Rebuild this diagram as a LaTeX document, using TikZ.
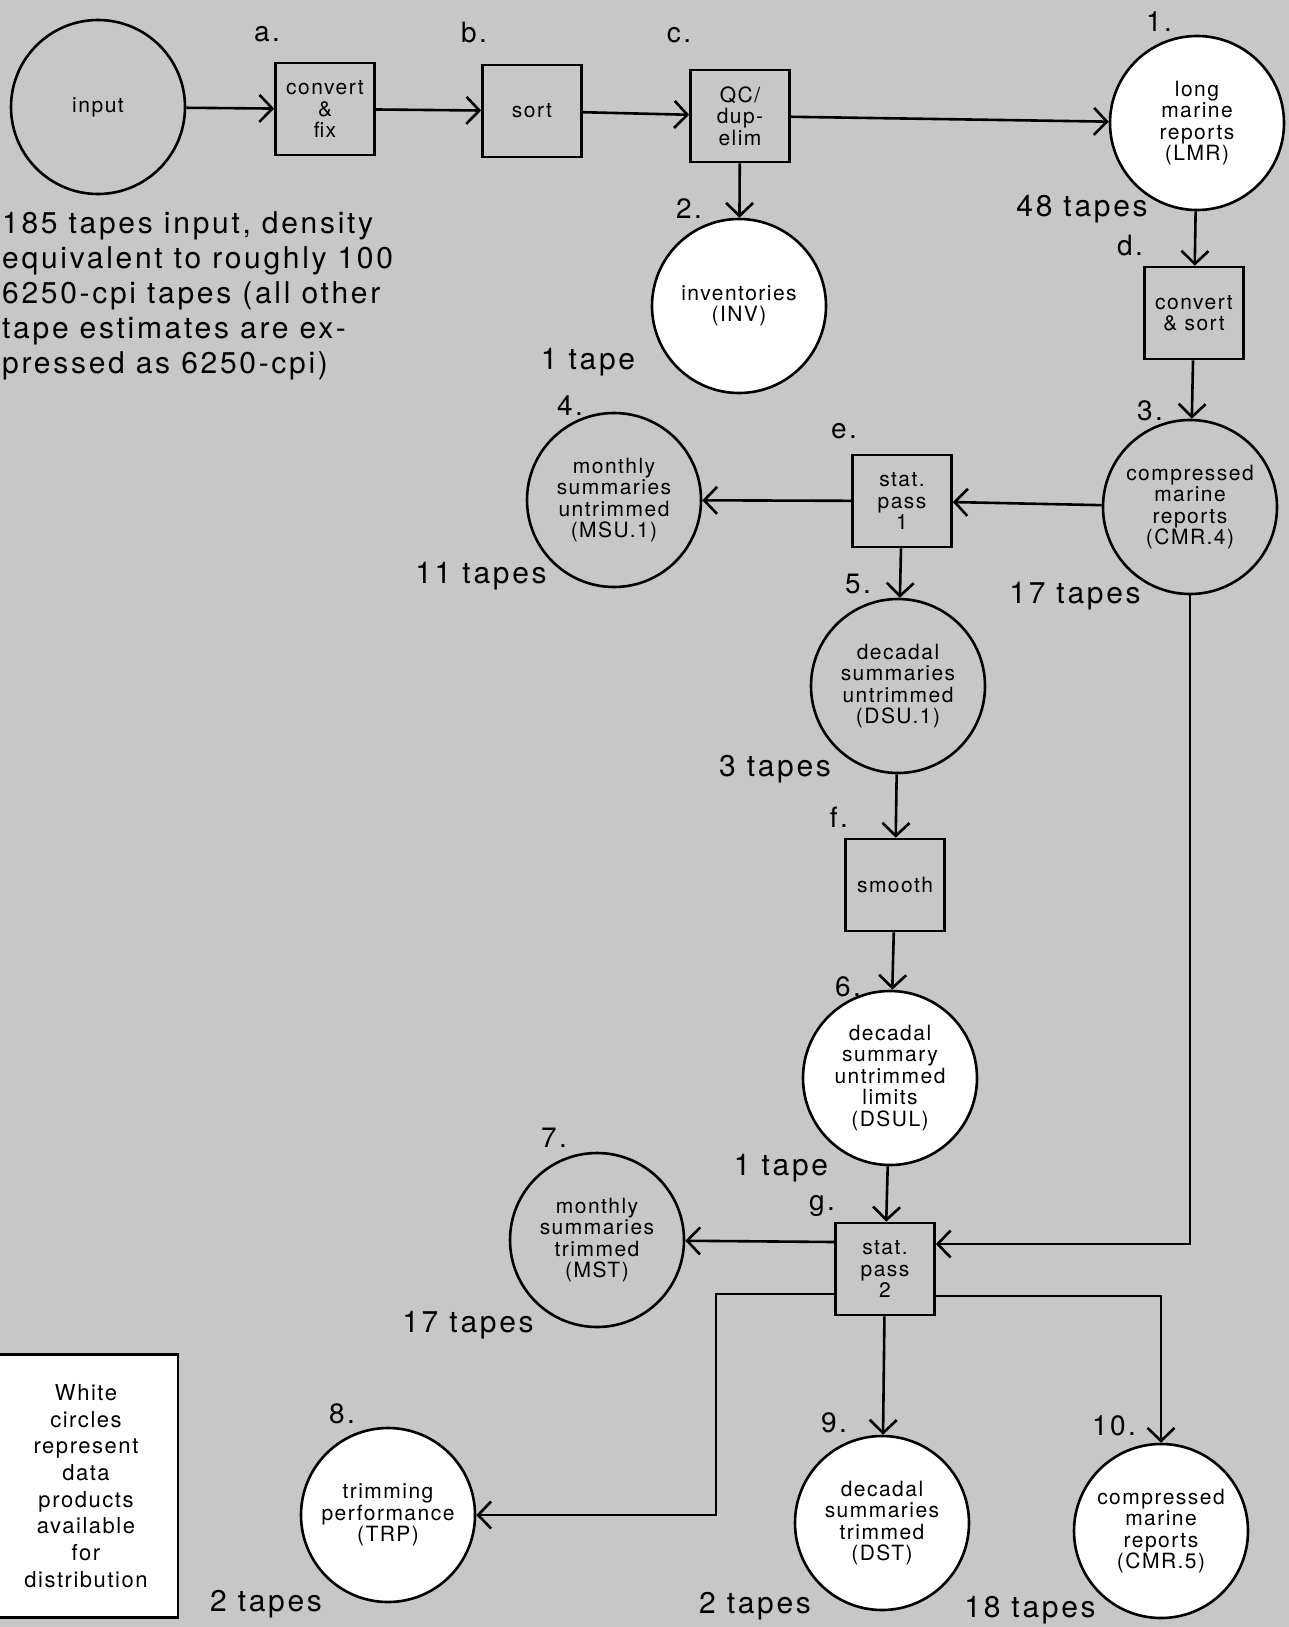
\documentclass[tikz,border=0pt]{standalone}
\usepackage{fontspec}
\setmainfont{TeX Gyre Heros}[LetterSpace=7]
\newfontfamily\bigfont{TeX Gyre Heros}[LetterSpace=9]
\usetikzlibrary{arrows.meta}
\definecolor{screen}{gray}{0.78}
\newcommand{\boxfont}{\fontsize{21}{21.5}\selectfont}
\newcommand{\legfont}{\fontsize{22}{26.7}\selectfont}
\newcommand{\tagfont}{\bigfont\fontsize{28}{30}\selectfont}
\newcommand{\notefont}{\bigfont\fontsize{30}{35}\selectfont}
\begin{document}
\begin{tikzpicture}[x=1pt,y=-1pt,every node/.style={inner sep=1pt}]
\tikzstyle{arrow}=[draw,line width=2.6pt,-{Straight Barb[length=13pt,width=27pt]}]
\tikzstyle{prod}=[circle,draw,line width=2.6pt,minimum size=174pt,align=center,font=\boxfont]
\tikzstyle{avail}=[prod,fill=white]
\tikzstyle{proc}=[rectangle,draw,line width=2.6pt,minimum width=99pt,minimum height=92pt,align=center,font=\boxfont]
\tikzstyle{tag}=[font=\tagfont,anchor=base]
\tikzstyle{count}=[font=\notefont,anchor=base]
\useasboundingbox (0,0) rectangle (1289,1627);
\clip (0,0) rectangle (1289,1627);
\fill[screen] (0,0) rectangle (1289,1627);

% top row
\node[prod](n0) at (98,107){input};
\node[proc](na) at (325,109){convert\\\&\\fix};
\node[proc](nb) at (532,111){sort};
\node[proc](nc) at (740,116){QC/\\dup-\\elim};
\node[avail](n1) at (1197,123){long\\marine\\reports\\(LMR)};
\node[avail](n2) at (739,306){inventories\\(INV)};
\node[proc](nd) at (1194,313){convert\\\& sort};

% middle
\node[prod](n3) at (1190,507){compressed\\marine\\reports\\(CMR.4)};
\node[proc](ne) at (902,501){stat.\\pass\\1};
\node[prod](n4) at (614,500){monthly\\summaries\\untrimmed\\(MSU.1)};
\node[prod](n5) at (898,686){decadal\\summaries\\untrimmed\\(DSU.1)};
\node[proc](nf) at (895,885){smooth};
\node[avail](n6) at (890,1078){decadal\\summary\\untrimmed\\limits\\(DSUL)};

% bottom
\node[proc](ng) at (885,1269){stat.\\pass\\2};
\node[prod](n7) at (597,1240){monthly\\summaries\\trimmed\\(MST)};
\node[avail](n8) at (388,1515){trimming\\performance\\(TRP)};
\node[avail](n9) at (882,1523){decadal\\summaries\\trimmed\\(DST)};
\node[avail](n10) at (1161,1531){compressed\\marine\\reports\\(CMR.5)};
\coordinate(bend) at (716,1515);

\node[draw,fill=white,line width=2.6pt,minimum width=184pt,minimum height=263pt,align=center,font=\legfont](key) at (86,1486){White\\circles\\represent\\data\\products\\available\\for\\distribution};

\node[font=\notefont,align=left,anchor=north west](note) at (1,210){185 tapes input, density\\equivalent to roughly 100\\6250-cpi tapes (all other\\tape estimates are ex-\\pressed as 6250-cpi)};

% step letters and product numbers
\node[tag](la) at (267,42){a.};
\node[tag](lb) at (474,43){b.};
\node[tag](lc) at (679,43){c.};
\node[tag](ld) at (1130,255){d.};
\node[tag](le) at (844,438){e.};
\node[tag](lf) at (839,827){f.};
\node[tag](lg) at (822,1210){g.};
\node[tag](l1) at (1159,32){1.};
\node[tag](l2) at (689,218){2.};
\node[tag](l3) at (1150,420){3.};
\node[tag](l4) at (570,415){4.};
\node[tag](l5) at (858,593){5.};
\node[tag](l6) at (848,996){6.};
\node[tag](l7) at (554,1147){7.};
\node[tag](l8) at (342,1423){8.};
\node[tag](l9) at (834,1432){9.};
\node[tag](l10) at (1114,1435){10.};

% tape counts
\node[count](t1) at (1082,216){48 tapes};
\node[count](t2) at (588,369){1 tape};
\node[count](t3) at (1075,603){17 tapes};
\node[count](t4) at (481,583){11 tapes};
\node[count](t5) at (775,776){3 tapes};
\node[count](t6) at (781,1175){1 tape};
\node[count](t7) at (468,1332){17 tapes};
\node[count](t8) at (266,1611){2 tapes};
\node[count](t9) at (755,1613){2 tapes};
\node[count](t10) at (1030,1617){18 tapes};

\path[arrow](n0)--(na);
\path[arrow](na)--(nb);
\path[arrow](nb)--(nc);
\path[arrow](nc)--(n1);
\path[arrow](nc)--(n2);
\path[arrow](n1)--(nd);
\path[arrow](nd)--(n3);
\path[arrow](n3)--(ne);
\path[arrow](ne)--(n4);
\path[arrow](ne)--(n5);
\path[arrow](n5)--(nf);
\path[arrow](nf)--(n6);
\path[arrow](n6)--(ng);
\path[arrow](n3)|-([yshift=25pt]ng.east);
\path[arrow]([yshift=27pt]ng.west)--(n7);
\path[arrow]([yshift=-25pt]ng.west)-|(bend)--(n8);
\path[arrow](ng)--(n9);
\path[arrow]([yshift=-27pt]ng.east)-|(n10);
\end{tikzpicture}
\end{document}
